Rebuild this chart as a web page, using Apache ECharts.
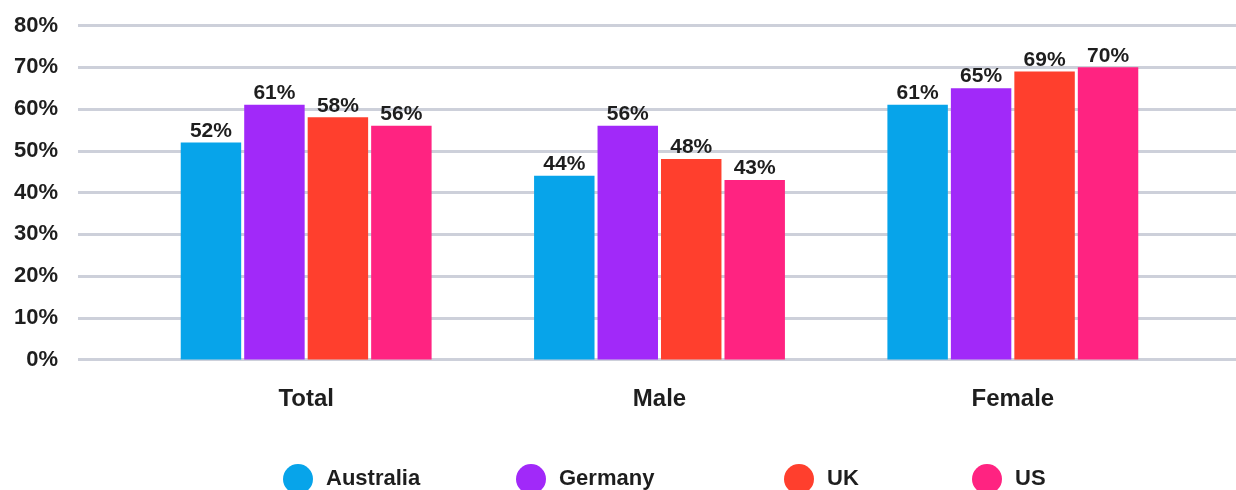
<!DOCTYPE html>
<html>
<head>
<meta charset="utf-8">
<script src="https://cdn.jsdelivr.net/npm/echarts@6/dist/echarts.min.js"></script>
<style>
  html, body { margin: 0; padding: 0; background: #ffffff; }
  #chart { width: 1236px; height: 490px; }
</style>
</head>
<body>
<div id="chart"></div>
<script>
const categories = ['Total', 'Male', 'Female'];
const seriesNames = ['Australia', 'Germany', 'UK', 'US'];
const australia = [52, 44, 61];
const germany = [61, 56, 65];
const uk = [58, 48, 69];
const us = [56, 43, 70];
const yTicks = [0, 10, 20, 30, 40, 50, 60, 70, 80];

const colors = ['#07A4EA', '#A129F9', '#FF3F2D', '#FF2381'];
const values = [australia, germany, uk, us];
const FONT = 'Liberation Sans, Arial, sans-serif';
const TEXT = '#1e1e1e';

const chart = echarts.init(document.getElementById('chart'), null, { renderer: 'canvas' });

const legendLefts = [278, 511, 779, 967];

const option = {
  animation: false,
  backgroundColor: '#ffffff',
  grid: [
    { left: 78, right: 0, top: 25.5, bottom: 130.5, containLabel: false },
    { left: 129.5, right: 46.5, top: 25.5, bottom: 130.5, containLabel: false }
  ],
  legend: seriesNames.map((n, i) => ({
    data: [n],
    left: legendLefts[i],
    top: 459,
    icon: 'circle',
    itemWidth: 32,
    itemHeight: 30,
    selectedMode: false,
    textStyle: { fontFamily: FONT, fontSize: 22, fontWeight: 'bold', color: TEXT, padding: [0, 0, 0, 7] }
  })),
  xAxis: [
    { type: 'value', gridIndex: 0, show: false, min: 0, max: 1 },
    {
      type: 'category', gridIndex: 1, data: categories,
      axisLine: { show: false }, axisTick: { show: false },
      axisLabel: { fontFamily: FONT, fontSize: 24, fontWeight: 'bold', color: TEXT, margin: 28 }
    }
  ],
  yAxis: [
    {
      type: 'value', gridIndex: 0, min: yTicks[0], max: yTicks[yTicks.length - 1], interval: 10,
      axisLine: { show: false }, axisTick: { show: false },
      axisLabel: { formatter: '{value}%', fontFamily: FONT, fontSize: 22, fontWeight: 'bold', color: TEXT, margin: 20 },
      splitLine: { show: true, lineStyle: { color: '#CDD0DA', width: 3 } }
    },
    {
      type: 'value', gridIndex: 1, min: yTicks[0], max: yTicks[yTicks.length - 1], interval: 10,
      show: false, splitLine: { show: false }
    }
  ],
  series: seriesNames.map((n, i) => ({
    name: n,
    type: 'bar',
    xAxisIndex: 1,
    yAxisIndex: 1,
    data: values[i],
    barGap: '5%',
    barCategoryGap: '29%',
    itemStyle: { color: colors[i] },
    label: {
      show: true, position: 'top', distance: 1,
      formatter: '{c}%',
      fontFamily: FONT, fontSize: 21, fontWeight: 'bold', color: TEXT
    }
  }))
};

chart.setOption(option);
</script>
</body>
</html>
